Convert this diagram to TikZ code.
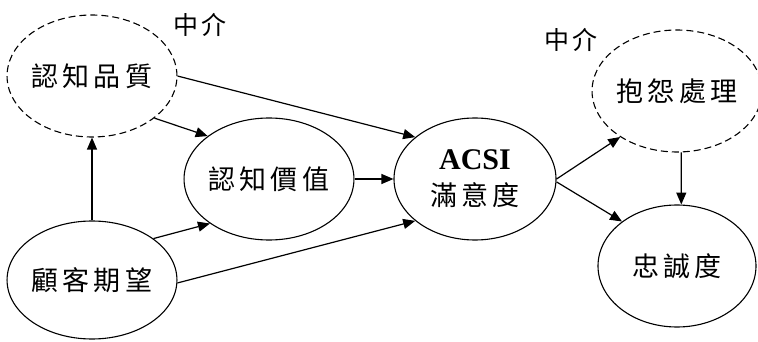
\documentclass[tikz,border=0pt]{standalone}
\usepackage{fontspec}
\setmainfont{Liberation Serif}
\newfontfamily\cjk[LetterSpace=15]{Noto Sans CJK TC}
\usetikzlibrary{shapes.geometric,arrows.meta}
\begin{document}
\begin{tikzpicture}[x=1pt,y=-1pt,
  bub/.style={ellipse,draw,line width=1.1pt,inner sep=0pt,minimum width=162pt,minimum height=122pt,font=\cjk\fontsize{27}{30}\selectfont,align=center},
  dbub/.style={bub,dash pattern=on 7pt off 4pt},
  arr/.style={line width=1.2pt,-{Triangle[length=12pt,width=10pt]}},
  lbl/.style={font=\cjk\fontsize{25}{28}\selectfont,inner sep=0pt}]
\useasboundingbox (0,0) rectangle (758,342);
\node[dbub] (q) at (92,76) {認知品質};
\node[bub] (v) at (269,179) {認知價值};
\node[bub,minimum height=118pt] (g) at (92,280) {顧客期望};
\node[bub] (s) at (475,179) {{\rmfamily\bfseries\fontsize{30}{30}\selectfont ACSI}\\[6pt]滿意度};
\node[dbub,minimum width=158pt] (c) at (677,91) {抱怨處理};
\node[bub,minimum width=158pt] (l) at (677,266) {忠誠度};
\node[lbl] (m1) at (200,25) {中介};
\node[lbl] (m2) at (571,40) {中介};
\draw[arr] (g.north) -- (q.south);
\draw[arr] (q.-34) -- (v.145);
\draw[arr] (q.0) -- (s.145);
\draw[arr] (g.34) -- (v.217);
\draw[arr] (g.-2) -- (s.215);
\draw[arr] (v.0) -- (s.180);
\draw[arr] (s.0) -- (c.219);
\draw[arr] (s.-2) -- (l.141);
\draw[arr] (c.-86) -- (l.86);
\end{tikzpicture}
\end{document}
